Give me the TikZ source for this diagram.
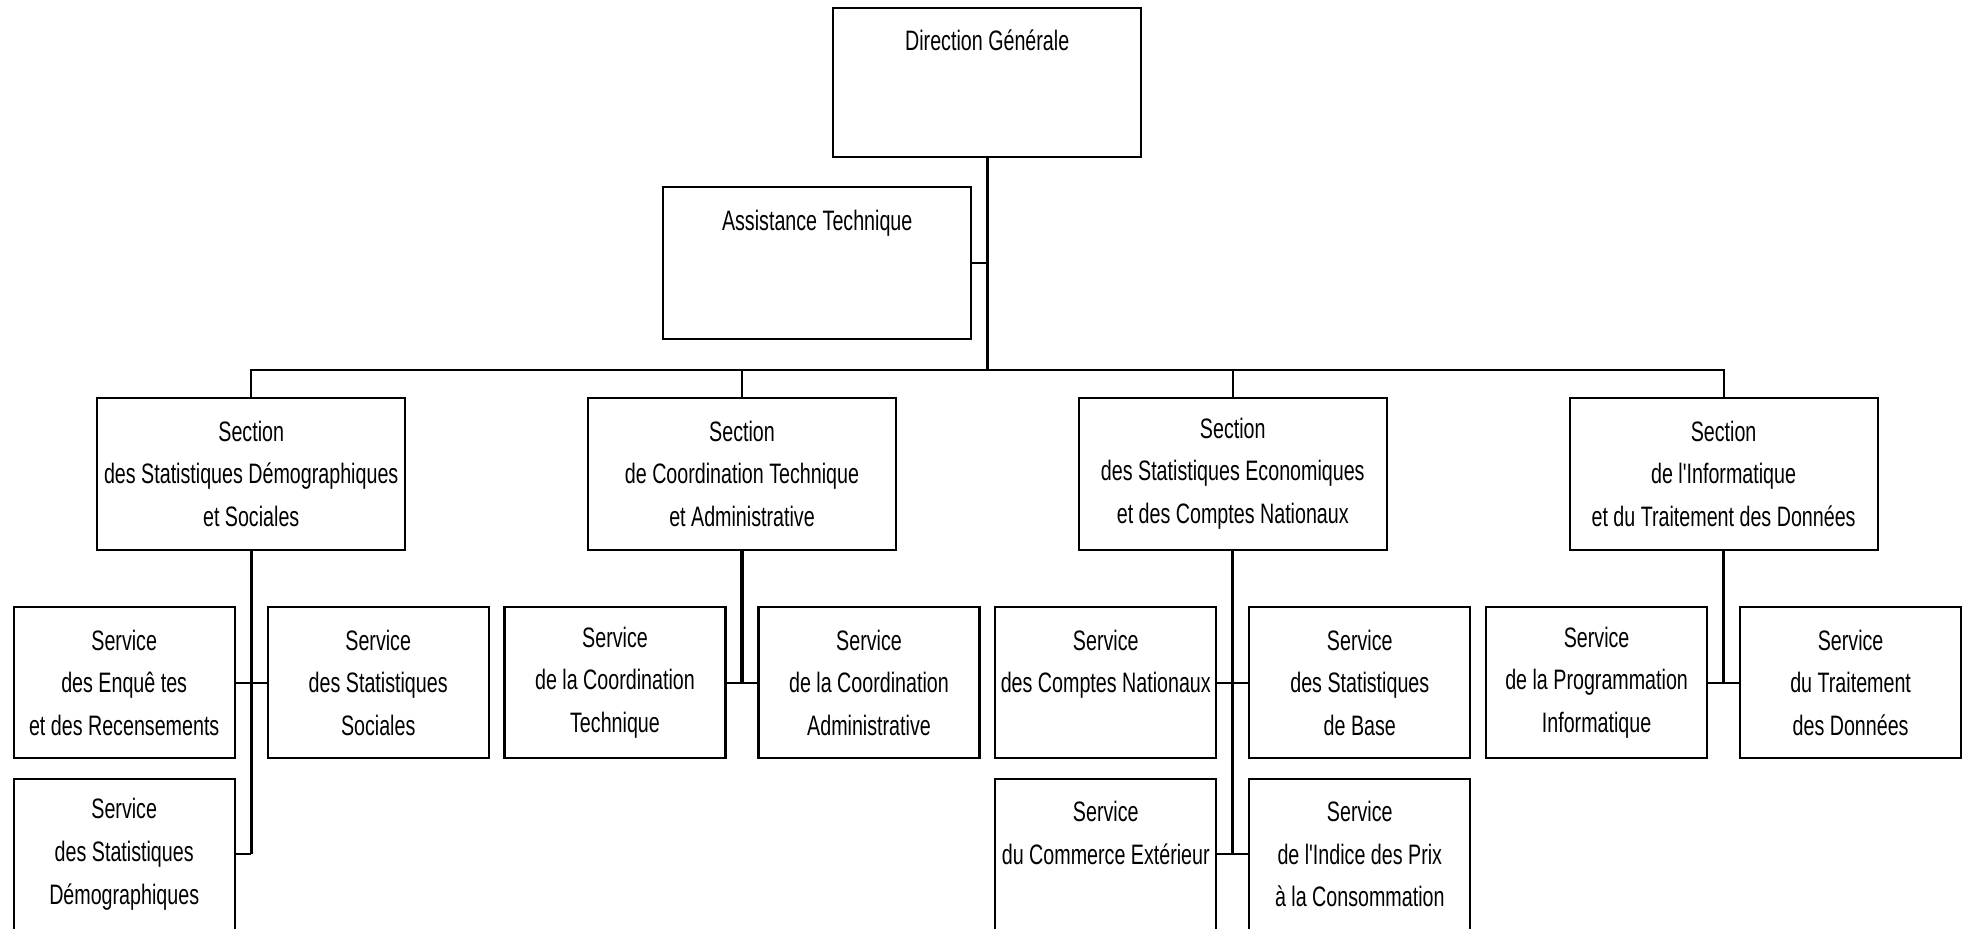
\documentclass[tikz,border=0pt]{standalone}
\usepackage{fontspec}
\setmainfont{Liberation Sans}[FakeStretch=0.7, Ligatures=TeXOff]
\usepackage{tikz}
\usetikzlibrary{positioning, calc}
\tikzstyle{unit} = [rectangle, draw=black, line width=0.6pt, inner sep=0pt, outer sep=0pt, align=center, font=\fontsize{8}{12.1}\selectfont]
\tikzstyle{head} = [unit, minimum width=30.8mm, minimum height=15.2mm]
\tikzstyle{service} = [unit, minimum width=22.1mm, minimum height=15.1mm]
\tikzstyle{link} = [line width=0.6pt]
\tikzstyle{trunk} = [line width=0.9pt]

\begin{document}
\begin{tikzpicture}[node distance = 18.28mm, auto]
	\useasboundingbox (0,0) rectangle (197mm,-92.9mm);
	\node (Direction) [head, minimum height=14.9mm] at (98.72mm,-8.23mm) {Direction Générale\\~\\~};
	\node (Assistance) [head, below = 3mm of Direction, xshift=-17mm] {Assistance Technique\\~\\~};
	\node (Section1) [head] at (25.12mm,-47.37mm) {Section\\des Statistiques Démographiques\\et Sociales};
	\node (Section2) [head, right = of Section1] {Section\\de Coordination Technique\\et Administrative};
	\node (Section3) [head, right = of Section2] {Section\\des Statistiques Economiques\\et des Comptes Nationaux};
	\node (Section4) [head, right = of Section3] {Section\\de l'Informatique\\et du Traitement des Données};
	\coordinate (Bus) at ([yshift=2.8mm]Section1.north);

	\node (ServiceEnquetes) [service, below = 5.75mm of Section1, xshift=-12.7mm] {Service\\des Enquê tes\\et des Recensements};
	\node (ServiceSociales) [service, below = 5.75mm of Section1, xshift=12.7mm] {Service\\des Statistiques\\Sociales};
	\node (ServiceDemographiques) [service, below = 2.05mm of ServiceEnquetes] {Service\\des Statistiques\\Démographiques};
	\node (ServiceCoordTech) [service, below = 5.75mm of Section2, xshift=-12.7mm] {Service\\de la Coordination\\Technique};
	\node (ServiceCoordAdmin) [service, below = 5.75mm of Section2, xshift=12.7mm] {Service\\de la Coordination\\Administrative};
	\node (ServiceComptes) [service, below = 5.75mm of Section3, xshift=-12.7mm] {Service\\des Comptes Nationaux\\~};
	\node (ServiceBase) [service, below = 5.75mm of Section3, xshift=12.7mm] {Service\\des Statistiques\\de Base};
	\node (ServiceCommerce) [service, below = 2.05mm of ServiceComptes] {Service\\du Commerce Extérieur\\~};
	\node (ServicePrix) [service, below = 2.05mm of ServiceBase] {Service\\de l'Indice des Prix\\à la Consommation};
	\node (ServiceProgrammation) [service, below = 5.75mm of Section4, xshift=-12.7mm] {Service\\de la Programmation\\Informatique};
	\node (ServiceTraitement) [service, below = 5.75mm of Section4, xshift=12.7mm] {Service\\du Traitement\\des Données};

	\draw [trunk] (Direction.south) -- (Direction.south |- Bus);
	\draw [link] (Assistance.east) -- (Assistance.east -| Direction.south);
	\draw [link] (Section1.north) -- (Bus) -| (Section4.north);
	\draw [link] (Section2.north) -- (Section2.north |- Bus);
	\draw [link] (Section3.north) -- (Section3.north |- Bus);

	\draw [trunk] (Section1.south) -- (Section1.south |- ServiceDemographiques.east);
	\draw [link] (ServiceEnquetes.east) -- (ServiceSociales.west);
	\draw [link] (ServiceDemographiques.east) -- (ServiceDemographiques.east -| Section1.south);
	\draw [trunk] (Section2.south) -- (Section2.south |- ServiceCoordTech.east);
	\draw [link] (ServiceCoordTech.east) -- (ServiceCoordAdmin.west);
	\draw [trunk] (Section3.south) -- (Section3.south |- ServiceCommerce.east);
	\draw [link] (ServiceComptes.east) -- (ServiceBase.west);
	\draw [link] (ServiceCommerce.east) -- (ServicePrix.west);
	\draw [trunk] (Section4.south) -- (Section4.south |- ServiceProgrammation.east);
	\draw [link] (ServiceProgrammation.east) -- (ServiceTraitement.west);
\end{tikzpicture}
\end{document}
